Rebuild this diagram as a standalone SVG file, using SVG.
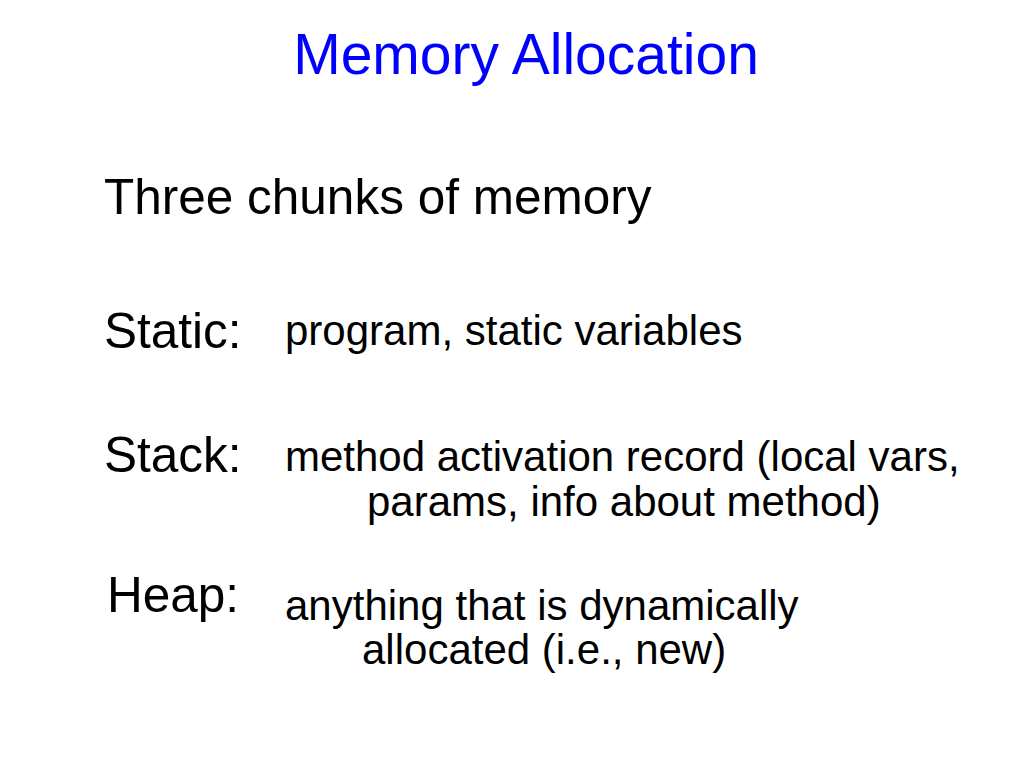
<svg xmlns="http://www.w3.org/2000/svg" width="1024" height="768" viewBox="0 0 1024 768">
<style>
text{font-family:"Liberation Sans",Arial,sans-serif;fill:#000}
.t{font-size:57px;fill:#0000ff}
.h{font-size:49.5px}
.b{font-size:42px}
</style>
<rect width="1024" height="768" fill="#fff"/>
<text class="t" x="526" y="74" text-anchor="middle">Memory Allocation</text>
<text class="h" x="104" y="214">Three chunks of memory</text>
<g id="static"><text class="h" x="104" y="348">Static:</text><text class="b" x="285" y="345">program, static variables</text></g>
<g id="stack"><text class="h" x="104" y="472">Stack:</text><text class="b" x="285" y="471">method activation record (local vars,</text><text class="b" x="367" y="516">params, info about method)</text></g>
<g id="heap"><text class="h" x="107" y="612">Heap:</text><text class="b" x="285" y="620">anything that is dynamically</text><text class="b" x="362" y="664">allocated (i.e., new)</text></g>
</svg>
